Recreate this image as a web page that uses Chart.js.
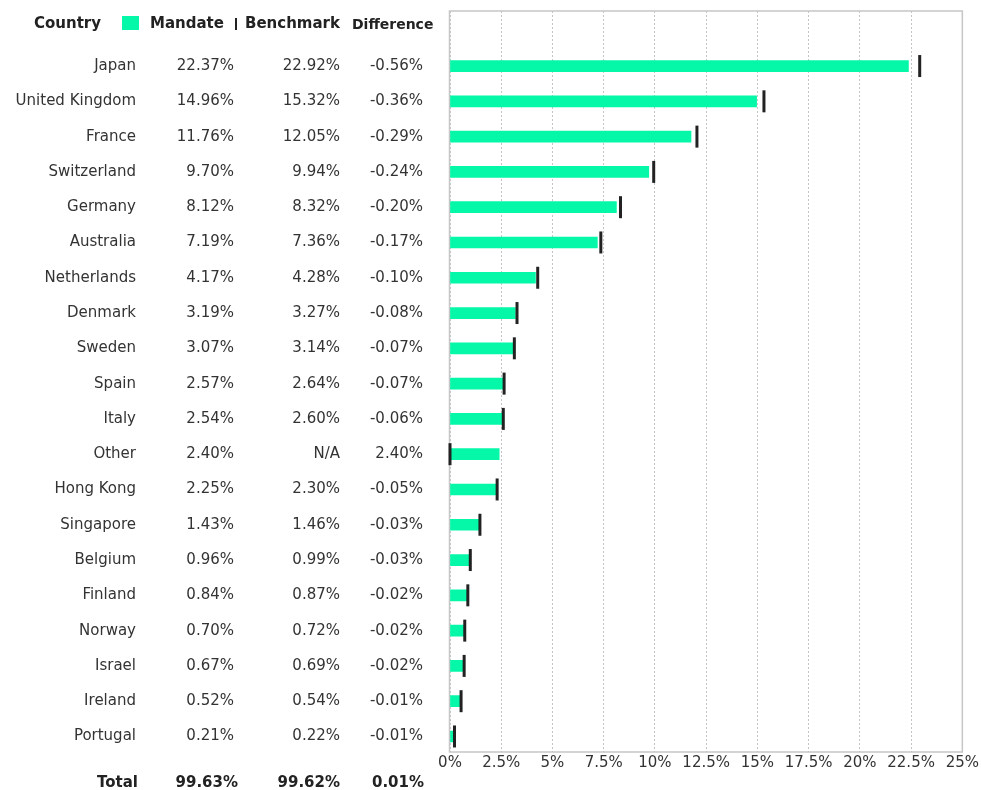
<!DOCTYPE html>
<html>
<head>
<meta charset="utf-8">
<script src="https://cdn.jsdelivr.net/npm/chart.js@4"></script>
<style>
  body { margin:0; background:#fff; }
  #wrap { width:981px; height:790px; }
</style>
</head>
<body>
<div id="wrap"><canvas id="countryChart" width="981" height="790"></canvas></div>
<script>
// table data
var countries  = ['Japan','United Kingdom','France','Switzerland','Germany','Australia','Netherlands',
                  'Denmark','Sweden','Spain','Italy','Other','Hong Kong','Singapore','Belgium',
                  'Finland','Norway','Israel','Ireland','Portugal'];
var mandate    = [22.37,14.96,11.76,9.70,8.12,7.19,4.17,3.19,3.07,2.57,2.54,2.40,2.25,1.43,0.96,0.84,0.70,0.67,0.52,0.21];
var benchmark  = [22.92,15.32,12.05,9.94,8.32,7.36,4.28,3.27,3.14,2.64,2.60,null,2.30,1.46,0.99,0.87,0.72,0.69,0.54,0.22];
var difference = [-0.56,-0.36,-0.29,-0.24,-0.20,-0.17,-0.10,-0.08,-0.07,-0.07,-0.06,2.40,-0.05,-0.03,-0.03,-0.02,-0.02,-0.02,-0.01,-0.01];
var totalLabel = 'Total';
var totals     = [99.63, 99.62, 0.01];
var axisMin = 0, axisMax = 25, axisStep = 2.5;

var mint = '#05f7a8';
var ink  = '#333';

function pct(v) { return v === null ? 'N/A' : v.toFixed(2) + '%'; }

// header row is the first (empty) category so rows line up like the table
var labels = [''].concat(countries);

var tablePlugin = {
    id: 'table',
    beforeDatasetsDraw: function (chart) {
        var c = chart.ctx, a = chart.chartArea;
        c.save();
        c.strokeStyle = '#c6c6c6'; c.lineWidth = 1.5;
        c.strokeRect(a.left - 0.5, a.top, a.right - a.left + 0.5, a.bottom - a.top);
        c.restore();
    },
    afterDraw: function (chart) {
        var c = chart.ctx, ys = chart.scales.y;
        c.save();

        // header
        c.textBaseline = 'middle';
        c.fillStyle = '#222';
        c.textAlign = 'left';
        c.font = 'bold 15px "DejaVu Sans"';
        c.fillText('Country', 34, 24);
        c.fillStyle = mint; c.fillRect(122, 16, 17, 14);
        c.fillStyle = '#222';
        c.fillText('Mandate', 150, 24);
        c.fillRect(235, 18, 2, 12);
        c.fillText('Benchmark', 245, 24);
        c.font = 'bold 14px "DejaVu Sans"';
        c.fillText('Difference', 352, 25);

        // rows
        c.font = '15px "DejaVu Sans"';
        c.fillStyle = ink;
        c.textAlign = 'right';
        countries.forEach(function (name, i) {
            var y = ys.getPixelForValue(i + 1);
            c.fillText(name, 136, y);
            c.fillText(pct(mandate[i]), 234, y);
            c.fillText(pct(benchmark[i]), 340, y);
            c.fillText(pct(difference[i]), 423, y);
        });

        // total
        c.font = 'bold 15px "DejaVu Sans"';
        c.fillStyle = '#222';
        c.fillText(totalLabel, 138, 783);
        c.fillText(pct(totals[0]), 238, 783);
        c.fillText(pct(totals[1]), 340, 783);
        c.fillText(pct(totals[2]), 424, 783);
        c.restore();
    }
};

new Chart(document.getElementById('countryChart'), {
    type: 'bar',
    data: {
        labels: labels,
        datasets: [
            { type:'line', label:'Benchmark', indexAxis:'y',
              data:[null].concat(benchmark.map(function (v) { return v === null ? 0 : v; })),
              showLine:false, pointStyle:'line', rotation:90, pointRadius:11, pointHoverRadius:11,
              borderColor:'#222', pointBorderWidth:3, borderWidth:3, clip:false, order:0 },
            { label:'Mandate', data:[null].concat(mandate), backgroundColor:mint,
              barThickness:11, borderWidth:0, order:1 }
        ]
    },
    options: {
        indexAxis: 'y',
        responsive: false,
        animation: false,
        layout: { autoPadding:false, padding: { left:450, top:11, right:18, bottom:0 } },
        plugins: { legend:{display:false}, tooltip:{enabled:false} },
        scales: {
            x: { min:axisMin, max:axisMax,
                 afterFit: function (s) { s.height = 38; },
                 grid: { color:'#c4c4c4', drawTicks:false, lineWidth:1 },
                 border: { display:false, dash:[2,2] },
                 ticks: { stepSize:axisStep, autoSkip:false, maxRotation:0, padding:2, color:ink,
                          font:{ family:'DejaVu Sans', size:15 },
                          callback: function (v) { return v + '%'; } } },
            // nudge rows ~2px down, like the original table
            y: { display:false,
                 afterDataLimits: function (s) { s.min = -0.06; } }
        }
    },
    plugins: [tablePlugin]
});
</script>
</body>
</html>
